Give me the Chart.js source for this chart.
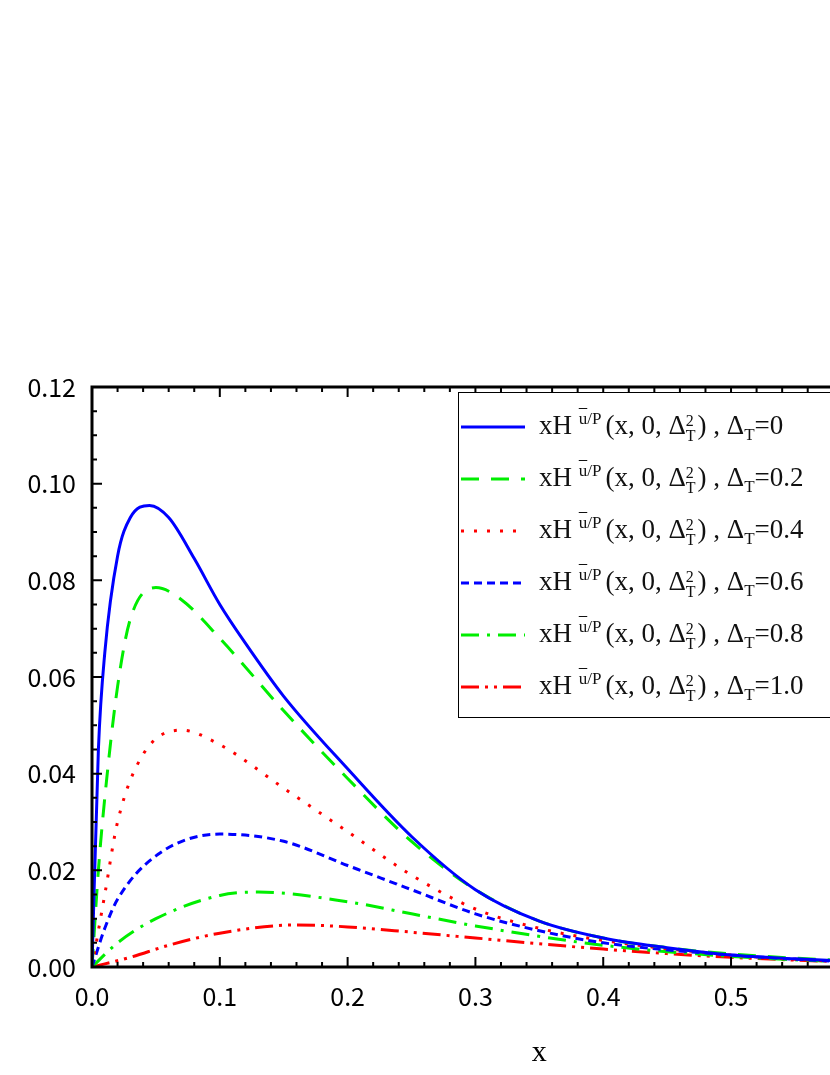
<!DOCTYPE html>
<html>
<head>
<meta charset="utf-8">
<script src="https://cdn.jsdelivr.net/npm/chart.js@4"></script>
<style>
  html, body { margin: 0; padding: 0; background: #fff; overflow: hidden; width: 830px; height: 1075px; }
  #wrap { position: relative; width: 1010px; height: 1075px; }
  #legend { position: absolute; left: 458px; top: 392px; width: 440px; height: 324px; border: 1px solid #000; background: #fff;
            font-family: "Liberation Serif", "DejaVu Serif", serif; font-size: 27px; color: #111; }
  .row { position: absolute; left: 0; height: 52px; display: flex; align-items: center; white-space: nowrap; }
  .row canvas { margin-left: 2px; margin-right: 14px; }
  sup { font-size: 17px; margin-right: 4px; }
  .sb { display: inline-flex; flex-direction: column; vertical-align: middle; line-height: 15px; font-size: 16px; margin-right: 2px; }
</style>
</head>
<body>
<div id="wrap">
  <canvas id="chart" width="1010" height="1075"></canvas>
  <div id="legend"></div>
</div>
<script>
const deltaLabels = ['0', '0.2', '0.4', '0.6', '0.8', '1.0'];
const colors = ['#0000ff', '#00ee00', '#ff0000', '#0000ff', '#00ee00', '#ff0000'];
const dashes = [[], [18, 12], [3, 10], [8, 5], [18, 8, 3, 8], [18, 6, 3, 6, 3, 6]];

const x1 = [0, 0.005, 0.01, 0.02, 0.03, 0.045, 0.06, 0.08, 0.1, 0.12, 0.15, 0.2, 0.25, 0.3, 0.35, 0.4, 0.45, 0.5, 0.55, 0.6, 0.65, 0.7];
const y1 = [0, 0.045, 0.065, 0.085, 0.093, 0.0955, 0.093, 0.0845, 0.075, 0.067, 0.056, 0.041, 0.027, 0.016, 0.0095, 0.006, 0.004, 0.0025, 0.0017, 0.0011, 0.0007, 0.0004];
const x2 = [0, 0.005, 0.01, 0.02, 0.03, 0.05, 0.07, 0.1, 0.15, 0.2, 0.25, 0.3, 0.35, 0.4, 0.45, 0.5, 0.6, 0.7];
const y2 = [0, 0.02, 0.035, 0.058, 0.072, 0.0785, 0.076, 0.068, 0.053, 0.039, 0.026, 0.016, 0.0095, 0.006, 0.004, 0.0027, 0.0012, 0.0005];
const x3 = [0, 0.01, 0.02, 0.04, 0.07, 0.1, 0.15, 0.2, 0.25, 0.3, 0.35, 0.4, 0.5, 0.6, 0.7];
const y3 = [0, 0.015, 0.03, 0.044, 0.049, 0.046, 0.037, 0.028, 0.019, 0.012, 0.008, 0.0055, 0.0025, 0.001, 0.0005];
const x4 = [0, 0.01, 0.02, 0.05, 0.1, 0.15, 0.2, 0.25, 0.3, 0.35, 0.4, 0.5, 0.6, 0.7];
const y4 = [0, 0.008, 0.014, 0.023, 0.0275, 0.026, 0.021, 0.016, 0.011, 0.0075, 0.005, 0.0025, 0.001, 0.0005];
const x5 = [0, 0.02, 0.05, 0.1, 0.13, 0.2, 0.25, 0.3, 0.4, 0.5, 0.6, 0.7];
const y5 = [0, 0.005, 0.01, 0.0148, 0.0155, 0.0135, 0.011, 0.0085, 0.0045, 0.0022, 0.001, 0.0005];
const x6 = [0, 0.03, 0.06, 0.1, 0.16, 0.2, 0.25, 0.3, 0.4, 0.5, 0.6, 0.7];
const y6 = [0, 0.002, 0.0045, 0.007, 0.0087, 0.0083, 0.0072, 0.006, 0.0037, 0.002, 0.001, 0.0005];
const xsAll = [x1, x2, x3, x4, x5, x6];
const ysAll = [y1, y2, y3, y4, y5, y6];

const tickFont = { family: '"Noto Sans CJK SC", "DejaVu Sans Mono", monospace', size: 25 };

const minorTicks = {
    id: 'minorTicks',
    afterDraw(chart) {
        const { ctx, chartArea: a, scales: { x, y } } = chart;
        ctx.save();
        ctx.strokeStyle = '#000';
        ctx.lineWidth = 2;
        for (let v = 0; v <= 0.7001; v += 0.02) {
            const px = x.getPixelForValue(v);
            const major = Math.abs(v * 10 - Math.round(v * 10)) < 1e-6;
            const len = major ? 10 : 5;
            ctx.beginPath();
            ctx.moveTo(px, a.bottom); ctx.lineTo(px, a.bottom - len);
            ctx.moveTo(px, a.top); ctx.lineTo(px, a.top + len);
            ctx.stroke();
        }
        for (let v = 0; v <= 0.1201; v += 0.005) {
            const py = y.getPixelForValue(v);
            const major = Math.abs(v * 50 - Math.round(v * 50)) < 1e-6;
            const len = major ? 10 : 5;
            ctx.beginPath();
            ctx.moveTo(a.left, py); ctx.lineTo(a.left + len, py);
            ctx.moveTo(a.right, py); ctx.lineTo(a.right - len, py);
            ctx.stroke();
        }
        ctx.lineWidth = 3;
        ctx.strokeRect(a.left, a.top, a.right - a.left, a.bottom - a.top);
        ctx.restore();
    }
};

new Chart(document.getElementById('chart'), {
    type: 'line',
    data: {
        datasets: xsAll.map((xs, i) => ({
            label: 'Δ_T=' + deltaLabels[i],
            data: xs.map((xv, j) => ({ x: xv, y: ysAll[i][j] })),
            borderColor: colors[i],
            borderDash: dashes[i],
            borderWidth: 3,
            pointRadius: 0,
            cubicInterpolationMode: 'monotone',
            fill: false
        }))
    },
    options: {
        responsive: false,
        animation: false,
        layout: { padding: { top: 387, right: 0, left: 0, bottom: 0 } },
        plugins: { legend: { display: false }, tooltip: { enabled: false } },
        scales: {
            x: {
                type: 'linear', min: 0, max: 0.7,
                grid: { display: false },
                border: { display: false },
                ticks: { stepSize: 0.1, font: tickFont, color: '#000', callback: v => v.toFixed(1), padding: 6 },
                title: { display: true, text: 'x', font: { family: '"Liberation Serif", serif', size: 30 }, color: '#000', padding: { top: 10 } },
                afterFit: s => { s.height = 108; }
            },
            y: {
                min: 0, max: 0.12,
                grid: { display: false },
                border: { display: false },
                ticks: { stepSize: 0.02, font: tickFont, color: '#000', callback: v => v.toFixed(2), padding: 8 },
                afterFit: s => { s.width = 92; }
            }
        }
    },
    plugins: [minorTicks]
});

const legend = document.getElementById('legend');
deltaLabels.forEach((d, i) => {
    const row = document.createElement('div');
    row.className = 'row';
    row.style.top = (8 + i * 52) + 'px';
    const c = document.createElement('canvas');
    c.width = 64; c.height = 10;
    const g = c.getContext('2d');
    g.strokeStyle = colors[i]; g.lineWidth = 3; g.setLineDash(dashes[i]);
    g.beginPath(); g.moveTo(0, 5); g.lineTo(64, 5); g.stroke();
    row.appendChild(c);
    const t = document.createElement('span');
    t.innerHTML = 'xH <sup><span style="text-decoration: overline">u</span>/P</sup>(x, 0, Δ<span class="sb"><span>2</span><span>T</span></span>) , Δ<sub style="font-size:17px">T</sub>=' + d;
    row.appendChild(t);
    legend.appendChild(row);
});
</script>
</body>
</html>
